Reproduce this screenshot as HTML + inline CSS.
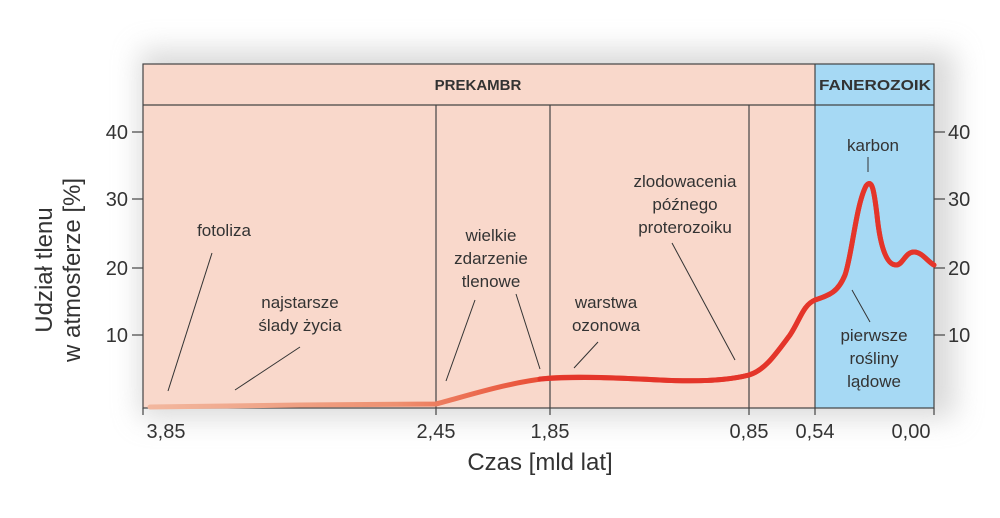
<!DOCTYPE html>
<html><head><meta charset="utf-8"><style>
body{margin:0;width:1000px;height:513px;overflow:hidden;background:#fff;font-family:"Liberation Sans",sans-serif}
</style></head><body>
<svg width="1000" height="513" viewBox="0 0 1000 513" font-family="Liberation Sans, sans-serif">
<defs>
<filter id="sh" x="-10%" y="-20%" width="120%" height="140%"><feGaussianBlur stdDeviation="14"/></filter>
<linearGradient id="cg" x1="150" y1="0" x2="560" y2="0" gradientUnits="userSpaceOnUse">
<stop offset="0" stop-color="#f2b79e"/><stop offset="0.6" stop-color="#ee9070"/><stop offset="1" stop-color="#e8452e"/></linearGradient>
</defs>
<rect x="140" y="50" width="815" height="368" fill="#bbb" opacity="0.55" filter="url(#sh)"/>
<rect x="143" y="64" width="672" height="344" fill="#f9d8cb"/>
<rect x="815" y="64" width="119" height="344" fill="#a6d9f4"/>
<g stroke="#444" stroke-width="1.2" fill="none">
<rect x="143" y="64" width="791" height="344"/>
<line x1="143" y1="105" x2="934" y2="105"/>
<line x1="815" y1="64" x2="815" y2="408"/>
<line x1="436" y1="105" x2="436" y2="408"/>
<line x1="550" y1="105" x2="550" y2="408"/>
<line x1="749" y1="105" x2="749" y2="408"/>
<line x1="132" y1="132" x2="143" y2="132"/><line x1="132" y1="199" x2="143" y2="199"/><line x1="132" y1="268" x2="143" y2="268"/><line x1="132" y1="335" x2="143" y2="335"/>
<line x1="934" y1="132" x2="945" y2="132"/><line x1="934" y1="199" x2="945" y2="199"/><line x1="934" y1="268" x2="945" y2="268"/><line x1="934" y1="335" x2="945" y2="335"/>
<line x1="143" y1="408" x2="143" y2="415"/><line x1="436" y1="408" x2="436" y2="415"/><line x1="550" y1="408" x2="550" y2="415"/><line x1="749" y1="408" x2="749" y2="415"/><line x1="815" y1="408" x2="815" y2="415"/><line x1="934" y1="408" x2="934" y2="415"/>
</g>
<g stroke="#333" stroke-width="1" fill="none">
<line x1="212" y1="253" x2="168" y2="391"/>
<line x1="300" y1="347" x2="235" y2="390"/>
<line x1="475" y1="300" x2="446" y2="381"/>
<line x1="516" y1="294" x2="540" y2="369"/>
<line x1="598" y1="342" x2="574" y2="368"/>
<line x1="672" y1="243" x2="735" y2="360"/>
<line x1="868" y1="157" x2="868" y2="172"/>
<line x1="852" y1="290" x2="870" y2="322"/>
</g>
<path d="M150,407 L300,405 L436,404 C470,395 510,382 550,378 C580,376 620,378 660,380 C700,382 730,380 749,375 C765,370 775,355 790,335 C800,320 803,305 815,300 C830,295 838,292 845,275 C852,255 856,205 866,186 C872,178 874,190 877,215 C880,245 886,265 896,265 C903,265 905,252 914,252 C922,252 928,262 934,265" fill="none" stroke="url(#cg)" stroke-width="5" stroke-linecap="round"/>
<path d="M540,379 C580,376 620,378 660,380 C700,382 730,380 749,375 C765,370 775,355 790,335 C800,320 803,305 815,300 C830,295 838,292 845,275 C852,255 856,205 866,186 C872,178 874,190 877,215 C880,245 886,265 896,265 C903,265 905,252 914,252 C922,252 928,262 934,265" fill="none" stroke="#e4352a" stroke-width="5" stroke-linecap="round"/>
<g fill="#333" font-size="15" font-weight="bold" text-anchor="middle">
<text x="478" y="90">PREKAMBR</text><text x="875" y="90" textLength="112" lengthAdjust="spacingAndGlyphs">FANEROZOIK</text></g>
<g fill="#333" font-size="20" text-anchor="end">
<text x="128" y="139">40</text><text x="128" y="206">30</text><text x="128" y="275">20</text><text x="128" y="342">10</text></g>
<g fill="#333" font-size="20" text-anchor="start">
<text x="948" y="139">40</text><text x="948" y="206">30</text><text x="948" y="275">20</text><text x="948" y="342">10</text></g>
<g fill="#333" font-size="20" text-anchor="middle">
<text x="166" y="438">3,85</text><text x="436" y="438">2,45</text><text x="550" y="438">1,85</text><text x="749" y="438">0,85</text><text x="815" y="438">0,54</text><text x="911" y="438">0,00</text></g>
<text x="540" y="470" fill="#333" font-size="24" text-anchor="middle">Czas [mld lat]</text>
<g fill="#333" font-size="24" text-anchor="middle">
<text transform="translate(52,270) rotate(-90)">Udział tlenu</text>
<text transform="translate(80,270) rotate(-90)">w atmosferze [%]</text></g>
<g fill="#333" font-size="17" text-anchor="middle">
<text x="224" y="236">fotoliza</text>
<text x="300" y="308">najstarsze</text><text x="300" y="331">ślady życia</text>
<text x="491" y="241">wielkie</text><text x="491" y="264">zdarzenie</text><text x="491" y="287">tlenowe</text>
<text x="606" y="308">warstwa</text><text x="606" y="331">ozonowa</text>
<text x="685" y="187">zlodowacenia</text><text x="685" y="210">późnego</text><text x="685" y="233">proterozoiku</text>
<text x="873" y="151">karbon</text>
<text x="874" y="341">pierwsze</text><text x="874" y="364">rośliny</text><text x="874" y="387">lądowe</text>
</g>
</svg>
</body></html>
